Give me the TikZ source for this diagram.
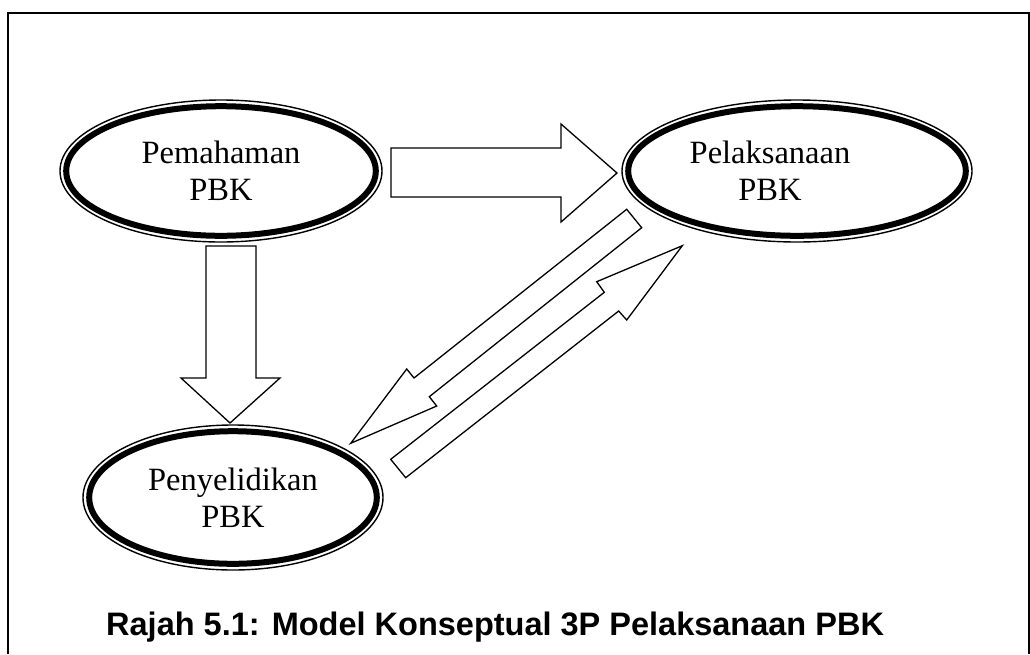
\documentclass[tikz,border=0pt]{standalone}
\usepackage{fontspec}
\setmainfont{Liberation Serif}
\newfontfamily\capfont{Liberation Sans}
\usetikzlibrary{shapes.geometric}
\begin{document}
\begin{tikzpicture}[x=1pt,y=-1pt,
  ring/.style={ellipse, draw, line width=1.4pt, inner sep=0pt, align=center,
    font=\fontsize{32.5}{37}\selectfont},
  ringtext/.style={inner sep=0pt, align=center, font=\fontsize{32.5}{37}\selectfont},
  thickring/.style={line width=6pt},
  blockarrow/.style={draw, line width=1.3pt, line join=miter, fill=white},
  frameline/.style={line width=2pt}]
\useasboundingbox (0,0) rectangle (1030,654);
\draw[frameline] (8,654) -- (8,13) -- (1028.5,13) -- (1028.5,654);

% ellipses
\node[ring, minimum width=322pt, minimum height=142pt] (pem) at (221,171) {Pemahaman\\PBK};
\draw[thickring] (pem.center) ellipse [x radius=154.8pt, y radius=64.8pt];

\node[ring, minimum width=350pt, minimum height=142pt] (pel) at (797,171) {};
\draw[thickring] (pel.center) ellipse [x radius=168.8pt, y radius=64.8pt];
\node[ringtext] (peltext) at (770,171) {Pelaksanaan\\PBK};

\node[ring, minimum width=300pt, minimum height=145pt] (pen) at (233,497.5) {Penyelidikan\\PBK};
\draw[thickring] (pen.center) ellipse [x radius=143.8pt, y radius=66.3pt];

% block arrows
\draw[blockarrow] (391,148) -- (561,148) -- (561,124) -- (617,173) -- (561,222) -- (561,197) -- (391,197) -- cycle;
\draw[blockarrow] (206,246) -- (256,246) -- (256,378) -- (280,378) -- (230,423) -- (181,378) -- (206,378) -- cycle;
\draw[blockarrow] (626.7,209.3) -- (414,378) -- (406.7,369) -- (350.7,443.3) -- (436.7,406) -- (429.3,396.7) -- (641.7,227.7) -- cycle;
\draw[blockarrow] (390.7,459.3) -- (604.3,292.3) -- (596.7,281.7) -- (682.3,245.7) -- (626.7,320) -- (618.7,311) -- (405.7,477.7) -- cycle;

% caption
\node[anchor=base west, inner sep=0pt, font=\capfont\bfseries\fontsize{32.5}{38}\selectfont] (cap) at (106,635) {Rajah 5.1: Model Konseptual 3P Pelaksanaan PBK};
\end{tikzpicture}
\end{document}
